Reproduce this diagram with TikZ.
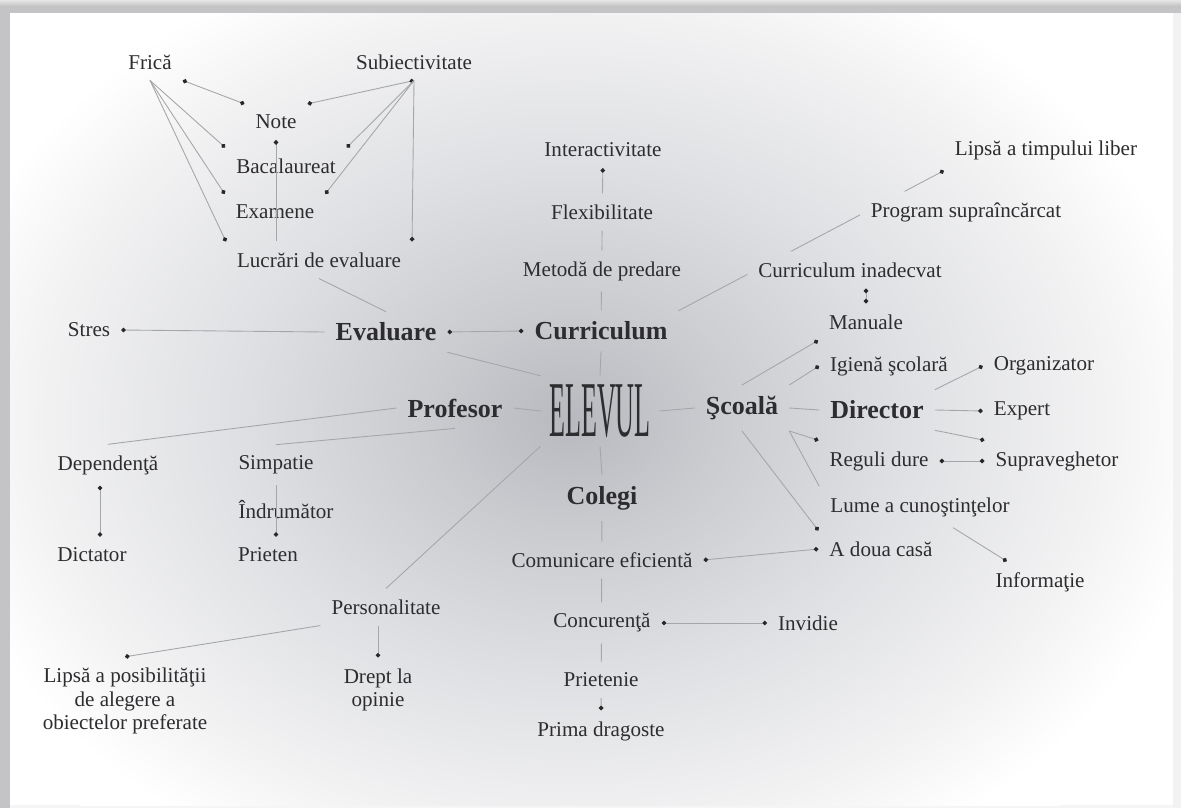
\documentclass[tikz,border=0pt]{standalone}
\usepackage{fontspec}
\setmainfont{Liberation Serif}
\usepackage{graphicx}
\usetikzlibrary{arrows.meta}

\definecolor{textcol}{RGB}{45,45,48}
\definecolor{dotcol}{RGB}{40,40,40}
\definecolor{lnkcol}{RGB}{165,166,170}
\definecolor{framegray}{RGB}{196,196,198}
\definecolor{haloA}{RGB}{184,185,190}
\definecolor{haloB}{RGB}{202,203,207}
\definecolor{haloC}{RGB}{223,224,227}
\definecolor{haloD}{RGB}{242,242,243}

\pgfdeclareradialshading{halo}{\pgfpoint{0bp}{0bp}}{%
  color(0bp)=(haloA); color(5bp)=(haloB); color(12bp)=(haloC);
  color(19bp)=(haloD); color(23bp)=(white); color(25bp)=(white);
  color(50bp)=(white)}

\tikzset{knob/.tip={Circle[length=2.6pt,color=dotcol]}}

\begin{document}
\begin{tikzpicture}[x=0.02cm, y=-0.02cm,
    idea/.style={text=textcol, font=\fontsize{12}{13.4}\selectfont, outer sep=3pt},
    topic/.style={text=textcol, font=\fontsize{14.8}{16}\selectfont\bfseries, outer sep=3pt},
    lnk/.style={draw=lnkcol, line width=0.5pt}]
  \useasboundingbox (0,0) rectangle (1181,808);

  % frame and background
  \fill[framegray] (0,0) rectangle (1181,808);
  \shade[top color=gray!20, bottom color=framegray] (0,0) rectangle (1181,6);
  \fill[white] (10,13) rectangle (1181,808);
  \fill[gray!10] (1173,13) rectangle (1181,808);
  \fill[gray!8] (10,805) rectangle (1173,808);
  \begin{scope}
    \clip (10,13) rectangle (1173,805);
    \shade[shading=halo] (570,420) ellipse [x radius=700, y radius=540];
  \end{scope}

  % evaluare
  \node[idea] (frica) at (150,62) {Frică};
  \node[idea] (subiect) at (414,62) {Subiectivitate};
  \node[idea] (note) at (276,122) {Note};
  \node[idea] (bac) at (286,166) {Bacalaureat};
  \node[idea] (exam) at (275,212) {Examene};
  \node[idea] (lucrari) at (319,260) {Lucrări de evaluare};
  \node[idea] (stres) at (89,330) {Stres};
  \node[topic] (eval) at (386,332) {Evaluare};

  % curriculum
  \node[topic] (curr) at (601,331) {Curriculum};
  \node[idea] (interact) at (603,150) {Interactivitate};
  \node[idea] (flex) at (602,212) {Flexibilitate};
  \node[idea] (metoda) at (602,271) {Metodă de predare};
  \node[idea] (lipsatimp) at (1046,150) {Lipsă a timpului liber};
  \node[idea] (program) at (966,212) {Program supraîncărcat};
  \node[idea] (currinad) at (850,270) {Curriculum inadecvat};

  % centre
  \node[text=textcol, inner sep=2pt, outer sep=3pt] (elevul) at (600,411)
    {\scalebox{0.33}[1]{\fontsize{45}{45}\selectfont ELEVUL}};

  % scoala
  \node[topic] (scoala) at (742,408) {Şcoală};
  \node[idea] (manuale) at (866,322) {Manuale};
  \node[idea] (igiena) at (889,366) {Igienă şcolară};
  \node[topic] (director) at (877,410) {Director};
  \node[idea] (organiz) at (1044,366) {Organizator};
  \node[idea] (expert) at (1022,411) {Expert};
  \node[idea] (reguli) at (879,461) {Reguli dure};
  \node[idea] (suprav) at (1057,461) {Supraveghetor};
  \node[idea] (lume) at (920,507) {Lume a cunoştinţelor};
  \node[idea] (informatie) at (1040,582) {Informaţie};
  \node[idea] (adoua) at (881,549) {A doua casă};

  % colegi
  \node[topic] (colegi) at (602,498) {Colegi};
  \node[idea] (comunic) at (602,560) {Comunicare eficientă};
  \node[idea] (concur) at (602,623) {Concurenţă};
  \node[idea] (invidie) at (808,623) {Invidie};
  \node[idea] (prietenie) at (601,680) {Prietenie};
  \node[idea] (prima) at (601,731) {Prima dragoste};

  % profesor
  \node[topic] (prof) at (455,408) {Profesor};
  \node[idea] (depend) at (108,465) {Dependenţă};
  \node[idea] (dictator) at (92,555) {Dictator};
  \node[idea] (simpatie) at (276,465) {Simpatie};
  \node[idea] (indrum) at (286,510) {Îndrumător};
  \node[idea] (prieten) at (268,555) {Prieten};
  \node[idea] (personal) at (386,607) {Personalitate};
  \node[idea, align=center] (lipsaalegere) at (125,701)
    {Lipsă a posibilităţii\\de alegere a\\obiectelor preferate};
  \node[idea, align=center] (drept) at (378,690) {Drept la\\opinie};
  \coordinate (dd) at (100,500);

  % lines hidden behind the texts they cross
  \begin{scope}[even odd rule]
    \clip (0,0) rectangle (1181,808)
      (metoda.south west) rectangle (metoda.north east)
      (flex.south west) rectangle (flex.north east)
      (currinad.south west) rectangle (currinad.north east)
      (program.south west) rectangle (program.north east)
      (comunic.south west) rectangle (comunic.north east)
      (concur.south west) rectangle (concur.north east)
      (prietenie.south west) rectangle (prietenie.north east);
    \draw[lnk, -knob] (curr) -- (interact);
    \draw[lnk, -knob] (curr.north east) -- (lipsatimp.south west);
    \draw[lnk, -knob] (colegi) -- (prima);
  \end{scope}

  \draw[lnk, knob-knob] (frica.south east) -- (note.north west);
  \draw[lnk, -knob] (frica.south) -- (bac.north west);
  \draw[lnk, -knob] (frica.south) -- (exam.north west);
  \draw[lnk, -knob] (frica.south) -- (lucrari.north west);
  \draw[lnk, knob-knob] (subiect.south) -- (note.north east);
  \draw[lnk, -knob] (subiect.south) -- (bac.north east);
  \draw[lnk, -knob] (subiect.south) -- (exam.north east);
  \draw[lnk, -knob] (subiect.south) -- (lucrari.north east);
  \draw[lnk, -knob] (lucrari.north -| note.south) -- (note.south);
  \draw[lnk] (eval.north) -- (lucrari.south);
  \draw[lnk, -knob] (eval.west) -- (stres.east);
  \draw[lnk, knob-knob] (eval.east) -- (curr.west);
  \draw[lnk] (eval.south east) -- (elevul.north west);

  \draw[lnk] (curr.south) -- (elevul.north);
  \draw[lnk] (elevul.south) -- (colegi.north);
  \draw[lnk, knob-knob] (manuale.north) -- (manuale.north |- currinad.south);

  \draw[lnk] (elevul.east) -- (scoala.west);
  \draw[lnk, -knob] (scoala.north) -- (manuale.south west);
  \draw[lnk, -knob] (scoala.north east) -- (igiena.west);
  \draw[lnk] (scoala.east) -- (director.west);
  \draw[lnk, -knob] (scoala.south east) -- (reguli.north west);
  \draw[lnk] (scoala.south east) -- (lume.north west);
  \draw[lnk, -knob] (scoala.south) -- (adoua.north west);
  \draw[lnk, -knob] (director.north east) -- (organiz.west);
  \draw[lnk, -knob] (director.east) -- (expert.west);
  \draw[lnk, -knob] (director.south east) -- (suprav.north west);
  \draw[lnk, knob-knob] (reguli.east) -- (suprav.west);
  \draw[lnk, -knob] (lume) -- (informatie);
  \draw[lnk, knob-knob] (comunic.east) -- (adoua.west);
  \draw[lnk, knob-knob] (concur.east) -- (invidie.west);

  \draw[lnk] (prof.east) -- (elevul.west);
  \draw[lnk] (prof.west) -- (depend.north);
  \draw[lnk] (prof.south) -- (simpatie.north);
  \draw[lnk, knob-knob] (depend.south -| dd) -- (dictator.north -| dd);
  \draw[lnk, -knob] (simpatie.south) -- (simpatie.south |- prieten.north);
  \draw[lnk] (elevul.south west) -- (personal.north);
  \draw[lnk, -knob] (personal.south west) -- (lipsaalegere.north);
  \draw[lnk, -knob] (personal.south -| drept.north) -- (drept.north);
\end{tikzpicture}
\end{document}
